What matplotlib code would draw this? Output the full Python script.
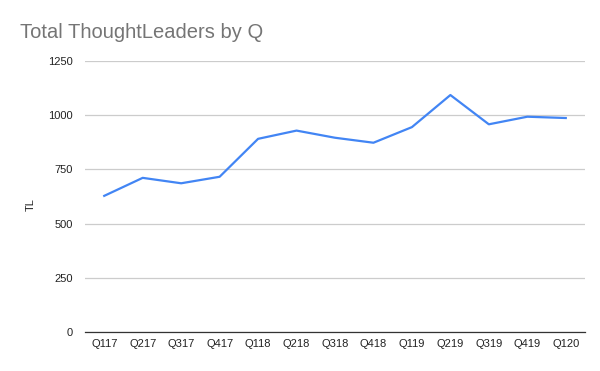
import matplotlib
matplotlib.use("Agg")
import matplotlib.pyplot as plt

# quarterly totals
quarters = ['Q117', 'Q217', 'Q317', 'Q417', 'Q118', 'Q218', 'Q318',
            'Q418', 'Q119', 'Q219', 'Q319', 'Q419', 'Q120']
tl_totals = [628, 711, 686, 716, 891, 929, 896, 873, 945, 1093, 958, 993, 987]
y_ticks = [0, 250, 500, 750, 1000, 1250]

plt.rcParams['font.family'] = ['Liberation Sans', 'DejaVu Sans']

fig = plt.figure(figsize=(6, 3.71), dpi=100)
ax = fig.add_axes([85 / 600, 39 / 371, 500 / 600, 271 / 371])

ax.plot(range(len(quarters)), tl_totals, color='#4285F4', linewidth=1.6,
        solid_joinstyle='round', zorder=3)

ax.set_xlim(-0.5, len(quarters) - 0.5)
ax.set_ylim(0, 1250)
ax.set_xticks(range(len(quarters)))
ax.set_xticklabels(quarters)
ax.set_yticks(y_ticks)
ax.grid(axis='y', color='#cccccc', linewidth=0.9)
ax.tick_params(length=0, labelsize=8, colors='#222222', pad=5)
ax.tick_params(axis='y', pad=9)
for side in ['top', 'right', 'left']:
    ax.spines[side].set_visible(False)
ax.spines['bottom'].set_color('#333333')
ax.spines['bottom'].set_linewidth(0.9)
ax.set_axisbelow(True)

fig.text(31 / 600, 1 - 205 / 371, 'TL', fontsize=8, color='#222222',
         rotation=90, ha='center', va='center')
fig.text(20 / 600, 1 - 32 / 371, 'Total ThoughtLeaders by Q', fontsize=14.5,
         color='#757575', va='center', ha='left')

fig.savefig('out.png', dpi=100, facecolor='white')
